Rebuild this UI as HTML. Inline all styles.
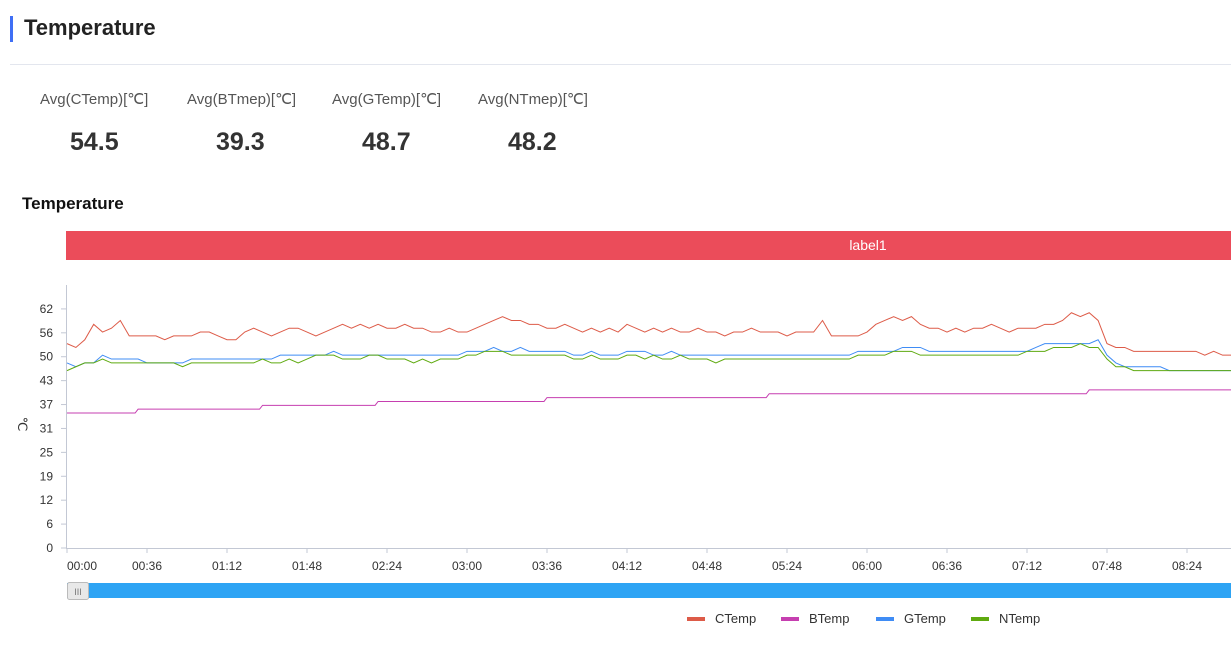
<!DOCTYPE html>
<html><head><meta charset="utf-8"><style>
body{margin:0;width:1231px;height:651px;background:#fff;font-family:"Liberation Sans",sans-serif;position:relative;overflow:hidden}
.abs{position:absolute}
</style></head><body>
<div class="abs" style="left:10px;top:16px;width:3px;height:26px;background:#3f6ff5"></div>
<div class="abs" style="left:24px;top:15px;font-size:22px;color:#222;font-weight:bold;-webkit-text-stroke:0">Temperature</div>
<div class="abs" style="left:10px;top:64px;width:1221px;height:1px;background:#e3e6ee"></div>
<div>
<div class="abs" style="left:40px;top:90px;font-size:15px;color:#555">Avg(CTemp)[℃]</div>
<div class="abs" style="left:187px;top:90px;font-size:15px;color:#555">Avg(BTmep)[℃]</div>
<div class="abs" style="left:332px;top:90px;font-size:15px;color:#555">Avg(GTemp)[℃]</div>
<div class="abs" style="left:478px;top:90px;font-size:15px;color:#555">Avg(NTmep)[℃]</div>
<div class="abs" style="left:70px;top:128px;font-size:25px;font-weight:bold;color:#333">54.5</div>
<div class="abs" style="left:216px;top:128px;font-size:25px;font-weight:bold;color:#333">39.3</div>
<div class="abs" style="left:362px;top:128px;font-size:25px;font-weight:bold;color:#333">48.7</div>
<div class="abs" style="left:508px;top:128px;font-size:25px;font-weight:bold;color:#333">48.2</div>
</div>
<div class="abs" style="left:22px;top:194px;font-size:17px;font-weight:bold;color:#111">Temperature</div>
<svg class="abs" style="left:0;top:0" width="1231" height="651" id="chart"></svg>
<script>
const yTicks=[0,6,12,19,25,31,37,43,50,56,62];
const xLabels=["00:00","00:36","01:12","01:48","02:24","03:00","03:36","04:12","04:48","05:24","06:00","06:36","07:12","07:48","08:24"];
const stepMin=4;
const ctemp=[53,52,54,58,56,57,59,55,55,55,55,54,55,55,55,56,56,55,54,54,56,57,56,55,56,57,57,56,55,56,57,58,57,58,57,58,57,57,58,57,57,56,56,57,56,56,57,58,59,60,59,59,58,58,57,57,58,57,56,57,56,57,56,58,57,56,57,56,57,56,56,57,56,56,55,56,56,57,56,56,56,55,56,56,56,59,55,55,55,55,56,58,59,60,59,60,58,57,57,56,57,56,57,57,58,57,56,57,57,57,58,58,59,61,60,61,59,53,52,52,51,51,51,51,51,51,51,51,50,51,50,50];
const btemp=[35,35,35,35,35,35,35,35,36,36,36,36,36,36,36,36,36,36,36,36,36,36,37,37,37,37,37,37,37,37,37,37,37,37,37,38,38,38,38,38,38,38,38,38,38,38,38,38,38,38,38,38,38,38,39,39,39,39,39,39,39,39,39,39,39,39,39,39,39,39,39,39,39,39,39,39,39,39,39,40,40,40,40,40,40,40,40,40,40,40,40,40,40,40,40,40,40,40,40,40,40,40,40,40,40,40,40,40,40,40,40,40,40,40,40,41,41,41,41,41,41,41,41,41,41,41,41,41,41,41,41,41];
const gtemp=[48,47,48,48,50,49,49,49,49,48,48,48,48,48,49,49,49,49,49,49,49,49,49,49,50,50,50,50,50,50,51,50,50,50,50,50,50,50,50,50,50,50,50,50,50,51,51,51,52,51,51,52,51,51,51,51,51,50,50,51,50,50,50,51,51,51,50,50,51,50,50,50,50,50,50,50,50,50,50,50,50,50,50,50,50,50,50,50,50,51,51,51,51,51,52,52,52,51,51,51,51,51,51,51,51,51,51,51,51,52,53,53,53,53,53,53,54,50,48,47,47,47,47,47,46,46,46,46,46,46,46,46];
const ntemp=[46,47,48,48,49,48,48,48,48,48,48,48,48,47,48,48,48,48,48,48,48,48,49,48,48,49,48,49,50,50,50,49,49,49,50,50,49,49,49,48,49,48,49,49,49,50,50,51,51,51,50,50,50,50,50,50,50,49,49,50,49,49,49,50,50,49,50,49,49,50,49,49,49,48,49,49,49,49,49,49,49,49,49,49,49,49,49,49,49,50,50,50,50,51,51,51,50,50,50,50,50,50,50,50,50,50,50,50,51,51,51,52,52,52,53,52,52,49,47,47,46,46,46,46,46,46,46,46,46,46,46,46];
const svg=document.getElementById('chart');const NS='http://www.w3.org/2000/svg';
const x0=67,pxPerMin=80/36,yBase=548,yMax=68.2,plotTop=285;
const X=m=>x0+m*pxPerMin;const Y=v=>yBase-v/yMax*(yBase-plotTop);
function mk(t,a){const e=document.createElementNS(NS,t);for(const k in a)e.setAttribute(k,a[k]);svg.appendChild(e);return e;}
let e;
e=mk('rect',{x:66,y:231,width:1165,height:29,fill:'#eb4c5a'});


e=mk('text',{x:868,y:250,'text-anchor':'middle','font-size':14,fill:'#fff'});e.textContent='label1';


e=mk('line',{x1:66.5,y1:plotTop,x2:66.5,y2:549,stroke:'#c3c8d4','stroke-width':1});


e=mk('line',{x1:66,y1:548.5,x2:1231,y2:548.5,stroke:'#c3c8d4','stroke-width':1});


yTicks.forEach((v,i)=>{const y=Y(i*6.2);
 e=mk('line',{x1:61,x2:66,y1:y,y2:y,stroke:'#c3c8d4'});
 
 
 e=mk('text',{x:53,y:y+4,'text-anchor':'end','font-size':12,fill:'#333'});e.textContent=v;
 
 });
xLabels.forEach((l,i)=>{const x=X(i*36);
 e=mk('line',{x1:x,x2:x,y1:548,y2:553,stroke:'#c3c8d4'});
 
 
 e=mk('text',{x:i==0?67:x,y:570,'text-anchor':i==0?'start':'middle','font-size':12,fill:'#333'});e.textContent=l;
 
 });
e=mk('text',{x:0,y:0,'font-size':13,fill:'#333',transform:'translate(18,424) rotate(90)','text-anchor':'middle'});e.textContent='℃';


const series=[[ctemp,'#dd5b48','ctemp'],[btemp,'#c63fb0','btemp'],[gtemp,'#3f8cf5','gtemp'],[ntemp,'#5faa10','ntemp']];
series.forEach(s=>{let d='';let prev=null;s[0].forEach((v,i)=>{const x=X(i*stepMin),y=Y(v);
 if(s[2]==='btemp'&&prev!==null&&prev!==v){d+=`L${x-3},${Y(prev)} `;}
 d+=(i?'L':'M')+x+','+y+' ';prev=v;});
 e=mk('path',{d:d,fill:'none',stroke:s[1],'stroke-width':1});
 
 });
e=mk('rect',{x:67,y:583,width:1164,height:15,fill:'#2ea4f4'});


e=mk('rect',{x:67.5,y:582.5,width:21,height:17,fill:'#e8e8e8',stroke:'#bbb',rx:2});


e=mk('text',{x:78,y:595,'text-anchor':'middle','font-size':9,fill:'#777'});e.textContent='III';


const legend=[['CTemp','#dd5b48',687],['BTemp','#c63fb0',781],['GTemp','#3f8cf5',876],['NTemp','#5faa10',971]];
legend.forEach(l=>{e=mk('rect',{x:l[2],y:617,width:18,height:4,fill:l[1]});
 
 
 e=mk('text',{x:l[2]+28,y:623,'font-size':13,fill:'#333'});e.textContent=l[0];
 
 });
</script>
</body></html>
